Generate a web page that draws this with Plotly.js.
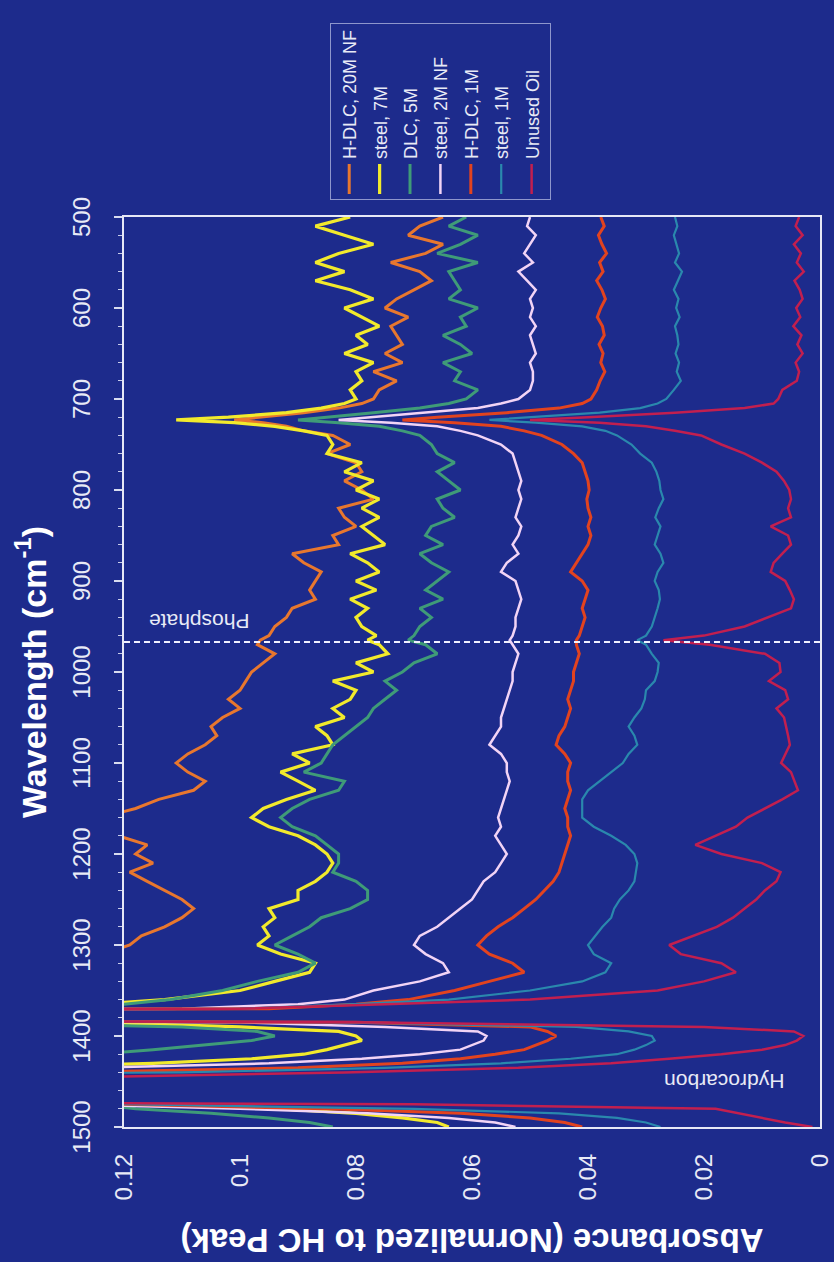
<!DOCTYPE html>
<html>
<head>
<meta charset="utf-8">
<script src="https://cdn.plot.ly/plotly-3.0.1.min.js"></script>
<style>
  html, body { margin: 0; padding: 0; background: #1d2b8c; width: 834px; height: 1262px; overflow: hidden; }
  #chart { position: absolute; left: 0; top: 0; width: 1262px; height: 834px;
           transform-origin: 0 0; transform: translate(0px, 1262px) rotate(-90deg); }
</style>
</head>
<body>
<div id="chart"></div>
<script>
// Wavenumber grid (cm^-1)
const wavenumber = [
  500,510,520,530,540,550,560,570,580,590,600,610,620,630,640,650,660,670,680,690,700,
  705,710,715,720,723,726,730,735,740,
  750,760,770,780,790,800,810,820,830,840,
  850,860,870,880,890,900,910,920,930,940,
  950,960,965,970,980,990,1000,1010,1020,1030,1040,
  1050,1060,1070,1080,1090,1100,1110,1120,1130,1140,
  1150,1160,1170,1180,1190,1200,1210,1220,1230,1240,
  1250,1260,1270,1280,1290,1300,1310,1320,1330,1340,
  1350,1360,
  1365,1370,1375,1377,1380,1385,1390,1395,1400,1405,1410,1415,1420,1425,1430,1435,1440,1445,1450,1460,1465,1470,1475,1480,1485,1490,1495,1500
];

const seriesNames = ["H-DLC, 20M NF", "steel, 7M", "DLC, 5M", "steel, 2M NF", "H-DLC, 1M", "steel, 1M", "Unused Oil"];

const hdlc20M = [
  0.065,0.069,0.071,0.065,0.068,0.074,0.069,0.067,0.070,0.073,0.075,0.071,0.074,0.073,0.072,0.075,0.072,0.077,0.073,0.076,0.077,
  0.079,0.083,0.089,0.097,0.101,0.096,0.092,0.089,0.084,
  0.081,0.085,0.080,0.079,0.082,0.079,0.077,0.083,0.082,0.080,
  0.084,0.083,0.091,0.089,0.086,0.087,0.088,0.087,0.091,0.092,
  0.094,0.095,0.0965,0.097,0.094,0.096,0.098,0.099,0.100,0.102,0.100,
  0.103,0.105,0.104,0.106,0.109,0.111,0.109,0.106,0.108,0.114,
  0.118,0.124,0.128,0.121,0.116,0.118,0.115,0.119,0.116,0.113,
  0.110,0.108,0.110,0.113,0.117,0.119,0.124,0.130,0.140,0.150,
  0.160,0.180,
  0.20,0.30,0.50,0.70,0.50,0.30,0.20,0.16,0.15,0.15,0.16,0.18,0.20,0.22,0.25,0.30,0.40,0.60,0.80,1.00,0.90,0.60,0.30,0.20,0.17,0.15,0.14,0.13
];

const steel7M = [
  0.081,0.087,0.082,0.077,0.083,0.087,0.082,0.087,0.081,0.077,0.082,0.079,0.076,0.080,0.078,0.082,0.077,0.080,0.079,0.081,0.080,
  0.082,0.086,0.092,0.102,0.111,0.101,0.094,0.089,0.085,
  0.084,0.085,0.079,0.082,0.077,0.080,0.076,0.079,0.076,0.079,
  0.077,0.075,0.081,0.078,0.076,0.080,0.0765,0.081,0.078,0.080,
  0.079,0.0765,0.078,0.076,0.0745,0.080,0.077,0.084,0.080,0.081,0.084,
  0.082,0.087,0.085,0.084,0.091,0.088,0.093,0.090,0.087,0.092,
  0.096,0.098,0.095,0.090,0.087,0.085,0.084,0.085,0.087,0.090,
  0.090,0.095,0.094,0.096,0.095,0.097,0.093,0.087,0.088,0.094,
  0.100,0.113,
  0.125,0.16,0.40,0.60,0.40,0.125,0.100,0.083,0.080,0.079,0.082,0.085,0.089,0.098,0.115,0.14,0.20,0.35,0.60,1.00,0.80,0.25,0.12,0.093,0.080,0.072,0.066,0.064
];

const dlc5M = [
  0.061,0.064,0.059,0.062,0.066,0.059,0.064,0.063,0.062,0.064,0.059,0.062,0.061,0.065,0.062,0.060,0.065,0.062,0.063,0.059,0.061,
  0.064,0.069,0.077,0.086,0.090,0.083,0.076,0.072,0.069,
  0.067,0.066,0.063,0.066,0.064,0.062,0.066,0.065,0.063,0.067,
  0.068,0.065,0.069,0.067,0.064,0.066,0.068,0.065,0.069,0.067,
  0.069,0.070,0.071,0.068,0.066,0.070,0.072,0.075,0.073,0.075,0.077,
  0.078,0.080,0.082,0.084,0.085,0.086,0.089,0.082,0.083,0.088,
  0.091,0.093,0.091,0.087,0.085,0.083,0.083,0.084,0.080,0.078,
  0.078,0.081,0.086,0.088,0.091,0.094,0.090,0.087,0.090,0.097,
  0.103,0.112,
  0.120,0.150,0.40,0.60,0.40,0.15,0.110,0.097,0.094,0.098,0.106,0.115,0.125,0.14,0.16,0.20,0.25,0.40,0.60,1.00,0.80,0.40,0.125,0.118,0.105,0.095,0.088,0.084
];

const steel2MNF = [
  0.050,0.0505,0.049,0.050,0.051,0.0495,0.052,0.0505,0.049,0.050,0.0495,0.050,0.049,0.050,0.0495,0.049,0.050,0.0495,0.0495,0.050,0.052,
  0.055,0.059,0.068,0.078,0.083,0.074,0.066,0.062,0.059,
  0.055,0.053,0.0525,0.052,0.0515,0.052,0.0515,0.052,0.0525,0.0515,
  0.052,0.053,0.052,0.054,0.055,0.0525,0.052,0.0515,0.052,0.0525,
  0.0525,0.053,0.0535,0.053,0.052,0.0525,0.053,0.053,0.0535,0.054,0.0545,
  0.055,0.055,0.056,0.057,0.055,0.054,0.054,0.0535,0.054,0.0545,
  0.055,0.0555,0.055,0.056,0.055,0.054,0.055,0.056,0.058,0.059,
  0.060,0.062,0.064,0.066,0.069,0.070,0.068,0.065,0.064,0.069,
  0.077,0.082,
  0.090,0.11,0.30,0.60,0.30,0.10,0.075,0.059,0.0575,0.058,0.060,0.062,0.069,0.079,0.095,0.125,0.20,0.40,0.60,1.00,0.80,0.35,0.13,0.100,0.078,0.064,0.056,0.0525
];

const hdlc1M = [
  0.0378,0.0372,0.0382,0.0376,0.0368,0.0380,0.0374,0.0385,0.0376,0.0370,0.0378,0.0384,0.0375,0.0372,0.0381,0.0374,0.0378,0.0371,0.0379,0.0385,0.0395,
  0.041,0.045,0.054,0.066,0.072,0.063,0.055,0.051,0.048,
  0.0445,0.0425,0.041,0.0405,0.040,0.0398,0.0402,0.040,0.0395,0.040,
  0.0395,0.040,0.041,0.042,0.043,0.041,0.040,0.0405,0.041,0.0405,
  0.041,0.0415,0.042,0.042,0.0415,0.042,0.0425,0.0425,0.043,0.0435,0.043,
  0.0435,0.044,0.045,0.0455,0.044,0.043,0.0435,0.0435,0.043,0.0435,
  0.044,0.0435,0.0435,0.043,0.0435,0.044,0.0445,0.045,0.046,0.0475,
  0.049,0.051,0.053,0.0555,0.0575,0.059,0.057,0.053,0.051,0.057,
  0.063,0.071,
  0.080,0.095,0.25,0.60,0.30,0.08,0.050,0.047,0.0455,0.047,0.049,0.051,0.056,0.062,0.072,0.090,0.13,0.30,0.60,1.00,0.80,0.35,0.12,0.085,0.062,0.050,0.044,0.041
];

const steel1M = [
  0.0250,0.0246,0.0252,0.0248,0.0243,0.0250,0.0238,0.0245,0.0252,0.0244,0.0248,0.0242,0.0250,0.0246,0.0244,0.0249,0.0243,0.0247,0.0240,0.0252,0.0265,
  0.028,0.031,0.038,0.050,0.057,0.049,0.041,0.037,0.035,
  0.0325,0.031,0.029,0.0282,0.0277,0.0275,0.027,0.0278,0.0284,0.0275,
  0.028,0.0285,0.0275,0.027,0.028,0.0285,0.0278,0.0276,0.028,0.0285,
  0.029,0.030,0.0315,0.030,0.029,0.0278,0.028,0.0285,0.030,0.0302,0.0308,
  0.032,0.033,0.032,0.0315,0.033,0.034,0.036,0.038,0.040,0.041,
  0.041,0.041,0.039,0.036,0.0335,0.032,0.0315,0.0318,0.032,0.033,
  0.0345,0.0355,0.036,0.0375,0.0388,0.040,0.039,0.036,0.037,0.041,
  0.050,0.064,
  0.080,0.10,0.25,0.60,0.30,0.08,0.042,0.033,0.029,0.0285,0.030,0.032,0.035,0.043,0.055,0.075,0.11,0.25,0.50,1.00,0.80,0.30,0.12,0.070,0.045,0.035,0.030,0.0275
];

const unusedOil = [
  0.0036,0.0042,0.0030,0.0045,0.0033,0.0040,0.0028,0.0044,0.0035,0.0030,0.0041,0.0034,0.0046,0.0032,0.0039,0.0030,0.0042,0.0036,0.0040,0.0065,0.0072,
  0.0080,0.013,0.025,0.040,0.050,0.038,0.030,0.025,0.0205,
  0.017,0.013,0.010,0.0075,0.0062,0.0053,0.0050,0.0055,0.0050,0.0085,
  0.0055,0.0050,0.0065,0.0080,0.0085,0.0060,0.0052,0.0045,0.0050,0.0090,
  0.013,0.020,0.027,0.019,0.0095,0.0070,0.0068,0.0088,0.0060,0.0055,0.0075,
  0.0062,0.0058,0.0055,0.0052,0.0060,0.0067,0.0050,0.0044,0.0038,0.0065,
  0.0095,0.0125,0.0145,0.018,0.0215,0.017,0.010,0.0068,0.0075,0.0095,
  0.011,0.013,0.015,0.0178,0.022,0.026,0.024,0.017,0.0145,0.020,
  0.028,0.050,
  0.075,0.100,0.30,1.00,0.30,0.080,0.020,0.0045,0.0029,0.004,0.006,0.010,0.017,0.026,0.036,0.052,0.082,0.125,0.40,0.90,0.70,0.30,0.070,0.018,0.014,0.010,0.006,0.0013
];

const seriesValues = [hdlc20M, steel7M, dlc5M, steel2MNF, hdlc1M, steel1M, unusedOil];
const seriesColors = ["#e8772e", "#f2ea2c", "#3f9b78", "#f2d4f6", "#e2431f", "#2a88ad", "#c21f4f"];
const seriesWidths = [3, 3.2, 3, 2.5, 3, 2.2, 2.5];

const absorbanceTicks = [0, 0.02, 0.04, 0.06, 0.08, 0.1, 0.12];
const phosphateWavenumber = 967;

const BG = "#1d2b8c";
const FG = "#e8eaf6";

const traces = seriesNames.map((name, i) => ({
  type: "scatter",
  mode: "lines",
  name: name,
  legendgroup: "g" + i,
  x: wavenumber,
  y: seriesValues[i],
  line: { color: seriesColors[i], width: seriesWidths[i], shape: "linear" },
  hoverinfo: "skip"
}));

const layout = {
  width: 1262,
  height: 834,
  paper_bgcolor: BG,
  plot_bgcolor: BG,
  margin: { l: 135, r: 217, t: 124, b: 14, autoexpand: false },
  font: { family: "Liberation Sans, Arial, Helvetica, sans-serif", color: FG },
  showlegend: true,
  legend: {
    x: 1.0187, xanchor: "left", y: 0.704, yanchor: "top",
    bgcolor: "rgba(0,0,0,0)", bordercolor: "#8e96cc", borderwidth: 1,
    font: { size: 18, color: FG },
    traceorder: "grouped", tracegroupgap: 4
  },
  xaxis: {
    side: "top",
    range: [1500, 500],
    tickmode: "linear", tick0: 500, dtick: 100,
    ticks: "outside", ticklen: 8, tickwidth: 1.5, tickcolor: "#d8dcf0",
    minor: { dtick: 20, ticks: "outside", ticklen: 4, tickwidth: 1, tickcolor: "#c8ccea" },
    showline: true, mirror: true, linecolor: "#e6e8f6", linewidth: 2,
    showgrid: false, zeroline: false,
    tickfont: { size: 24, color: FG },
    ticklabelstandoff: 14,
    ticklabeloverflow: "allow",
    automargin: false,
    title: { text: "<b>Wavelength (cm<sup>-1</sup>)</b>", font: { size: 34, color: "#ffffff" }, standoff: 12 }
  },
  yaxis: {
    range: [0, 0.12],
    tickmode: "array", tickvals: absorbanceTicks,
    ticks: "",
    showline: true, mirror: true, linecolor: "#e6e8f6", linewidth: 2,
    showgrid: false, zeroline: false,
    tickfont: { size: 24, color: FG },
    ticklabelstandoff: 20,
    ticklabeloverflow: "allow",
    automargin: false,
    title: { text: "<b>Absorbance (Normalized to HC Peak)</b>", font: { size: 33, color: "#ffffff" }, standoff: 18 }
  },
  shapes: [{
    type: "line", xref: "x", yref: "paper",
    x0: phosphateWavenumber, x1: phosphateWavenumber, y0: 0, y1: 1,
    line: { color: "#f0f0ff", width: 2, dash: "6px,4px" }
  }],
  annotations: [
    { text: "Phosphate", x: 945, y: 0.107, xref: "x", yref: "y", textangle: -90,
      showarrow: false, font: { size: 21, color: FG } },
    { text: "Hydrocarbon", x: 1450, y: 0.0164, xref: "x", yref: "y", textangle: -90,
      showarrow: false, font: { size: 21, color: FG } }
  ]
};

Plotly.newPlot("chart", traces, layout, { displayModeBar: false, staticPlot: true });
</script>
</body>
</html>
